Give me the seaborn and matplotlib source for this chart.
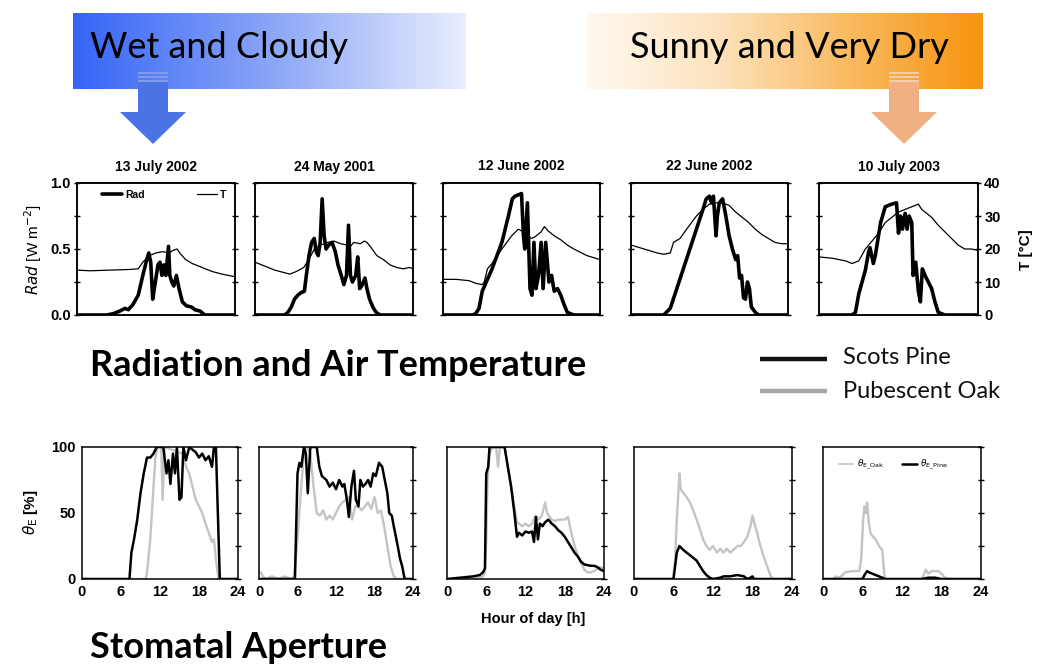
import numpy as np
import pandas as pd
import seaborn as sns
import matplotlib
matplotlib.use("Agg")
import matplotlib.pyplot as plt
from matplotlib.colors import LinearSegmentedColormap
from matplotlib.patches import Polygon, Rectangle
from matplotlib.lines import Line2D

# ---------------- data ----------------
DAYS = ["13 July 2002", "24 May 2001", "12 June 2002", "22 June 2002", "10 July 2003"]
HOUR_TICKS = [0, 6, 12, 18, 24]

# Radiation [W m-2 scaled 0..1] as (hour, value)
RAD_1 = [(0,0),(4.5,0),(5.5,0.01),(6.5,0.03),(7.3,0.05),(7.8,0.04),(8.5,0.08),(9.3,0.15),(10,0.3),(10.6,0.42),
         (10.9,0.47),(11.2,0.4),(11.5,0.12),(11.9,0.25),(12.3,0.38),(12.6,0.4),(12.9,0.3),(13.2,0.38),(13.5,0.3),
         (13.9,0.52),(14.1,0.3),(14.4,0.25),(14.7,0.22),(15.1,0.3),(15.5,0.2),(16,0.1),(16.6,0.07),(17.4,0.06),
         (17.9,0.04),(18.7,0.03),(19.4,0),(24,0)]
RAD_2 = [(0,0),(4.5,0),(5,0.02),(5.5,0.06),(6,0.12),(6.5,0.15),(7,0.17),(7.5,0.18),(7.8,0.3),(8.2,0.45),(8.6,0.55),
         (9,0.58),(9.3,0.48),(9.6,0.45),(9.9,0.55),(10.2,0.88),(10.5,0.6),(10.8,0.5),(11.2,0.53),(11.7,0.55),
         (12.2,0.48),(12.6,0.38),(13.1,0.3),(13.5,0.23),(13.9,0.3),(14.2,0.68),(14.5,0.3),(14.8,0.25),(15.3,0.3),
         (15.6,0.44),(15.9,0.2),(16.2,0.22),(16.7,0.28),(17,0.2),(17.4,0.12),(17.9,0.06),(18.4,0.02),(19,0),(24,0)]
RAD_3 = [(0,0),(4.5,0),(5,0.01),(5.5,0.05),(6,0.18),(7.5,0.35),(9,0.55),(10,0.75),(10.6,0.88),(11,0.9),(11.5,0.91),
         (12,0.92),(12.3,0.6),(12.5,0.5),(12.9,0.85),(13.3,0.2),(13.6,0.15),(13.9,0.55),(14.2,0.2),(14.6,0.3),
         (15,0.55),(15.3,0.2),(15.7,0.55),(16.2,0.25),(16.6,0.3),(17,0.18),(17.5,0.2),(18,0.15),(18.5,0.08),
         (19,0.02),(20,0),(24,0)]
RAD_4 = [(0,0),(5,0),(6,0.05),(7,0.2),(8,0.35),(9,0.5),(10,0.65),(11,0.8),(11.5,0.88),(12,0.9),(12.3,0.85),
         (12.6,0.9),(13,0.6),(13.2,0.75),(13.5,0.85),(14,0.88),(14.5,0.75),(15,0.6),(15.5,0.5),(16,0.42),
         (16.3,0.45),(16.6,0.28),(16.9,0.3),(17.2,0.13),(17.5,0.12),(17.8,0.25),(18.1,0.2),(18.4,0.06),(19,0.02),
         (19.5,0),(24,0)]
RAD_5 = [(0,0),(5,0),(5.5,0.02),(6,0.16),(7,0.34),(7.5,0.48),(7.7,0.51),(8.2,0.39),(8.5,0.45),(9.3,0.7),(10,0.82),
         (11,0.84),(11.7,0.85),(12,0.62),(12.3,0.75),(12.6,0.65),(13,0.77),(13.3,0.65),(13.6,0.75),(14,0.7),
         (14.2,0.3),(14.6,0.4),(15,0.18),(15.3,0.1),(15.6,0.35),(16,0.3),(16.5,0.25),(17,0.2),(17.5,0.1),
         (18,0.02),(19,0),(24,0)]

# Air temperature [°C] as (hour, value)
T_1 = [(0,13.6),(2,13.4),(5,13.6),(8,13.8),(9.3,14),(10,16),(11,18),(12,18.8),(13,19.2),(14,18.8),(14.6,19.6),
       (15.2,20),(15.6,18.8),(16.5,16.8),(17.5,15.6),(19,14.4),(20.5,13.2),(22,12.4),(24,11.6)]
T_2 = [(0,16),(1,15.2),(2,14.4),(3,13.6),(4.5,12.8),(5.3,12.4),(6.3,13.2),(7.4,14.4),(8.3,17.2),(9,20),(10,21.2),
       (11,22),(12,22.4),(13,21.6),(14,21.2),(14.5,20.8),(15,22),(16,21.6),(16.6,22.4),(17,22),(17.5,20.8),
       (18.5,18),(19.5,16.8),(20.5,15.2),(21.5,14.4),(22.5,14),(23.5,14.4),(24,14)]
T_3 = [(0,10.8),(2,10.8),(4,10.4),(5,9.6),(6,9.2),(6.3,10),(6.8,14),(7.5,15.6),(9,20),(10.5,24),(11.5,26),
       (12.3,25.2),(13.5,23.2),(14,23.6),(15,25.2),(15.5,26.8),(16,25.6),(17,24),(18,22.8),(19,21.2),(20,20),
       (22,18),(24,16.8)]
T_4 = [(0,21.2),(2,20),(4,18.8),(5,18.4),(6,18.8),(6.5,22),(7.5,23.2),(8.5,26),(10,30),(11,32),(12,33.6),
       (13,34),(14,34),(15,33.2),(16,31.2),(17,29.6),(18,28),(19,26),(20,24.4),(21,23.2),(22,22),(23,21.6),(24,21.6)]
T_5 = [(0,17.6),(2,17.2),(4,16.4),(5,15.6),(6,16.4),(7,20),(8,22.4),(9,24.8),(10,28),(11,29.6),(12,31.2),(13,32),
       (14,32.8),(15,33.6),(15.5,32),(16,31.2),(17,29.6),(18,27.2),(19,25.2),(20,23.2),(21,21.2),(22,20),(23,20),(24,19.6)]

# Stomatal aperture theta_E [%] as (hour, value)
OAK_1 = [(0,0),(9.8,0),(10,5),(10.5,30),(11,70),(11.3,92),(11.6,100),(12.2,100),(12.4,60),(12.7,100),(15.5,95),
         (16,85),(16.5,80),(17,70),(17.5,60),(18,55),(18.5,50),(19,42),(19.5,35),(20,28),(20.3,30),(20.6,15),(21,0),(24,0)]
PINE_1 = [(0,0),(7.3,0),(7.6,20),(8,30),(8.5,45),(9,65),(9.5,80),(10,92),(10.5,92),(11,95),(11.5,100),(12.5,100),
          (13,80),(13.3,90),(13.6,72),(14,95),(14.3,80),(14.6,100),(15,60),(15.3,62),(15.6,100),(16,90),(16.5,100),
          (17,98),(17.5,96),(18,92),(18.5,95),(19,90),(19.5,93),(20,85),(20.3,100),(20.6,100),(21.2,0),(24,0)]
OAK_2 = [(0,5),(0.3,5),(0.6,2),(1,0),(2,2),(3,0),(4,2),(5,0),(5.5,2),(6,30),(6.5,65),(7,95),(7.5,100),(8,95),
         (8.5,70),(9,50),(9.5,48),(10,52),(10.5,45),(11,48),(11.5,45),(12,50),(12.5,55),(13,58),(13.5,60),(14,62),
         (14.5,45),(15,55),(15.5,55),(16,52),(16.5,55),(17,58),(17.5,53),(18,62),(18.5,50),(19,52),(19.5,40),
         (20,25),(20.5,10),(21,2),(21.5,0),(24,0)]
PINE_2 = [(0,0),(5.6,0),(6,80),(6.3,88),(6.6,85),(7,100),(7.3,95),(7.6,65),(8,100),(9,100),(9.4,85),(9.8,78),
          (10.5,75),(11,70),(11.5,73),(12,68),(12.5,75),(13,70),(13.3,72),(13.7,60),(14,47),(14.4,70),(14.8,82),
          (15.1,60),(15.5,55),(15.8,75),(16.2,70),(16.6,72),(17,75),(17.4,70),(17.8,80),(18.2,78),(18.7,88),
          (19.2,85),(19.6,75),(20,65),(20.3,50),(20.7,48),(21,40),(21.5,28),(22,15),(22.3,10),(22.7,0),(24,0)]
OAK_3 = [(0,0),(4,0),(5.5,2),(5.8,5),(6,30),(6.2,75),(6.5,95),(7,100),(7.5,100),(7.8,85),(8.1,100),(8.8,100),
         (9.3,85),(9.8,70),(10.3,55),(10.7,43),(11,42),(11.5,40),(12,42),(12.5,40),(13,42),(13.5,48),(14,45),
         (14.5,48),(15,58),(15.3,50),(15.7,47),(16,45),(16.5,44),(17,45),(17.5,45),(18,45),(18.5,47),(19,35),
         (19.5,25),(20,18),(20.5,12),(21,7),(21.5,5),(22,5),(22.5,6),(23,8),(23.5,9),(24,8)]
PINE_3 = [(0,0),(2,1),(4,2),(5,3),(5.5,5),(5.8,8),(6,80),(6.3,85),(6.5,100),(8.8,100),(9.3,85),(9.8,70),(10.3,50),
          (10.7,32),(11,35),(11.5,33),(12,36),(12.5,35),(13,36),(13.3,28),(13.6,47),(13.9,30),(14.2,42),(14.6,40),
          (15,43),(15.5,45),(16,42),(16.5,40),(17,37),(17.5,35),(18,32),(18.5,28),(19,24),(19.5,20),(20,17),
          (20.5,13),(21,11),(22,10),(22.5,10),(23,9),(23.5,7),(24,6)]
OAK_4 = [(0,0),(5.9,0),(6.2,10),(6.5,45),(6.9,80),(7.1,68),(7.5,65),(8,62),(8.5,58),(9,52),(9.5,45),(10,38),
         (10.5,30),(11,25),(11.5,22),(12,25),(12.6,20),(13.1,23),(13.6,20),(14.1,23),(14.6,20),(15.1,22),(15.7,25),
         (16.2,25),(16.7,28),(17.2,32),(17.7,40),(18,48),(18.3,42),(18.7,35),(19.2,25),(19.7,17),(20.2,10),
         (20.7,3),(21.1,0),(24,0)]
PINE_4 = [(0,0),(6,0),(6.5,20),(6.9,25),(7.5,22),(8,20),(8.5,18),(9,16),(9.5,14),(10,10),(10.5,6),(11,3),(11.5,1),
          (12,0),(13.1,1),(13.6,2),(14.6,2),(15.7,3),(16.7,2),(17.2,0),(17.7,1),(18,2),(18.2,0),(24,0)]
OAK_5 = [(0,0),(1.5,0),(2,2),(2.5,1),(3,3),(3.3,5),(4.5,6),(5.5,6),(5.8,15),(6.1,45),(6.3,55),(6.5,50),(6.7,58),
         (6.9,45),(7.2,35),(7.6,32),(8,30),(8.5,25),(9,22),(9.2,10),(9.4,0),(15,0),(15.3,3),(15.6,7),(16,4),
         (16.5,6),(17.5,6),(18,4),(18.5,1),(19,0),(24,0)]
PINE_5 = [(0,0),(6,0),(6.3,3),(6.7,6),(7,5),(7.5,4),(8,3),(8.5,2),(9,1),(9.5,0),(15,0),(16,1),(17,1),(18,0),(24,0)]

RAD = [RAD_1, RAD_2, RAD_3, RAD_4, RAD_5]
TEMP = [T_1, T_2, T_3, T_4, T_5]
OAK = [OAK_1, OAK_2, OAK_3, OAK_4, OAK_5]
PINE = [PINE_1, PINE_2, PINE_3, PINE_4, PINE_5]

# ---------------- style ----------------
sns.set_theme(style="white")
plt.rcParams["font.family"] = ["Liberation Sans", "DejaVu Sans"]
plt.rcParams["mathtext.fontset"] = "dejavusans"
plt.rcParams["text.color"] = "black"

W, H = 1039, 664
fig = plt.figure(figsize=(W / 100, H / 100), dpi=100)
fig.patch.set_facecolor("white")


def box(x0, x1, y0, y1):
    return [x0 / W, 1 - y1 / H, (x1 - x0) / W, (y1 - y0) / H]


def frame(pairs):
    return pd.DataFrame(pairs, columns=["hour", "value"])


# background overlay in pixel coordinates
bg = fig.add_axes([0, 0, 1, 1], zorder=0)
bg.axis("off")
grad = np.linspace(0, 1, 256).reshape(1, -1)
blue = LinearSegmentedColormap.from_list("b", ["#3565f6", "#8aa5f6", "#e9eefd"])
orange = LinearSegmentedColormap.from_list("o", ["#fff8ef", "#fde3bd", "#f9b95e", "#f7940f"])
bg.imshow(grad, extent=[73, 466, 89, 13], cmap=blue, aspect="auto", interpolation="bicubic")
bg.imshow(grad, extent=[587, 983, 89, 13], cmap=orange, aspect="auto", interpolation="bicubic")


def arrow(cx, col, light):
    bg.add_patch(Rectangle((cx - 15, 82), 30, 31, color=col, lw=0))
    for y in (72, 76, 80):
        bg.add_patch(Rectangle((cx - 15, y), 30, 2.4, color=light, lw=0))
    bg.add_patch(Polygon([(cx - 33, 112), (cx + 33, 112), (cx, 144)], closed=True, color=col, lw=0))


arrow(153, "#4a73e3", "#7f9bec")
arrow(904, "#f1b083", "#f6cba8")
bg.set_xlim(0, W)
bg.set_ylim(H, 0)

bg.text(90, 47, "Wet and Cloudy", fontsize=26, family="Lato", va="center", ha="left", color="black")
bg.text(630, 47, "Sunny and Very Dry", fontsize=26, family="Lato", va="center", ha="left", color="black")
bg.text(90, 366, "Radiation and Air Temperature", fontsize=26, family="Lato", weight="bold", va="center",
        color="black")
bg.text(90, 648, "Stomatal Aperture", fontsize=26, family="Lato", weight="bold", va="center", color="black")

# species legend
bg.plot([760, 827], [359, 359], color="#111111", lw=3.2, solid_capstyle="butt")
bg.plot([760, 827], [391, 391], color="#a6a6a6", lw=3.2, solid_capstyle="butt")
bg.text(843, 358, "Scots Pine", fontsize=17, family="Lato", va="center", color="#111111")
bg.text(843, 391, "Pubescent Oak", fontsize=17, family="Lato", va="center", color="#111111")

# axis-wide labels
bg.text(33, 250, r"$\it{Rad}$ [W m$^{-2}$]", fontsize=11, rotation=90, va="center", ha="center", color="black")
bg.text(1026, 250, "T [°C]", fontsize=11, weight="bold", rotation=90, va="center", ha="center", color="black")
bg.text(31, 512, r"$\theta_{\mathrm{E}}$ [%]", fontsize=11, weight="bold", rotation=90, va="center", ha="center",
        color="black")
bg.text(533, 619, "Hour of day [h]", fontsize=10.5, weight="bold", va="center", ha="center", color="black")

TOP_X = [(77, 235), (255, 413), (443, 600), (631, 788), (819, 978)]
BOT_X = [(82, 238), (259, 413), (447, 604), (634, 792), (823, 981)]


def style_spines(ax):
    for s in ax.spines.values():
        s.set_color("black")
        s.set_linewidth(1.1)
        s.set_visible(True)


tick_kw = dict(direction="inout", length=5, width=1.0, colors="black", labelsize=10.5, pad=2)

for i in range(5):
    x0, x1 = TOP_X[i]
    ax = fig.add_axes(box(x0, x1, 183, 315), zorder=2)
    ax.set_facecolor("white")
    r = frame(RAD[i])
    sns.lineplot(data=r, x="hour", y="value", ax=ax, color="black", lw=2.6, errorbar=None, sort=False)
    ax2 = ax.twinx()
    t = frame(TEMP[i])
    sns.lineplot(data=t, x="hour", y="value", ax=ax2, color="black", lw=0.9, errorbar=None, sort=False)
    ax.set_xlim(0, 24)
    ax.set_ylim(0, 1)
    ax2.set_ylim(0, 40)
    ax.set_xticks(HOUR_TICKS)
    ax.set_xticklabels([])
    ax.set_yticks([0, 0.25, 0.5, 0.75, 1.0])
    ax2.set_yticks([0, 10, 20, 30, 40])
    ax.tick_params(axis="both", **tick_kw)
    ax2.tick_params(axis="y", **tick_kw)
    if i == 0:
        ax.set_yticklabels(["0.0", "", "0.5", "", "1.0"], weight="bold")
    else:
        ax.set_yticklabels([])
    if i == 4:
        ax2.set_yticklabels(["0", "10", "20", "30", "40"], weight="bold")
    else:
        ax2.set_yticklabels([])
    for a in (ax, ax2):
        a.set_xlabel("")
        a.set_ylabel("")
    style_spines(ax)
    style_spines(ax2)
    ax.set_title(DAYS[i], fontsize=10, weight="bold", pad=9, color="black")
    if i == 0:
        h = [Line2D([], [], color="black", lw=2.6), Line2D([], [], color="black", lw=0.9)]
        ax.legend(h, ["Rad", "T"], ncol=2, loc="upper left", bbox_to_anchor=(0.1, 1.02), frameon=False,
                  prop={"weight": "bold", "size": 7.5}, handlelength=1.9, handletextpad=0.3, columnspacing=5.0)

for i in range(5):
    x0, x1 = BOT_X[i]
    ax = fig.add_axes(box(x0, x1, 447, 579), zorder=2)
    ax.set_facecolor("white")
    o = frame(OAK[i])
    p = frame(PINE[i])
    sns.lineplot(data=o, x="hour", y="value", ax=ax, color="#c4c4c4", lw=1.7, errorbar=None, sort=False)
    sns.lineplot(data=p, x="hour", y="value", ax=ax, color="black", lw=1.8, errorbar=None, sort=False)
    ax.set_xlim(0, 24)
    ax.set_ylim(0, 100)
    ax.set_xticks(HOUR_TICKS)
    ax.set_xticklabels([str(v) for v in HOUR_TICKS], weight="bold")
    ax.set_yticks([0, 25, 50, 75, 100])
    ax.tick_params(axis="both", right=True, **tick_kw)
    if i == 0:
        ax.set_yticklabels(["0", "", "50", "", "100"], weight="bold")
    else:
        ax.set_yticklabels([])
    ax.set_xlabel("")
    ax.set_ylabel("")
    style_spines(ax)
    if i == 4:
        h = [Line2D([], [], color="#c4c4c4", lw=1.2), Line2D([], [], color="black", lw=1.8)]
        ax.legend(h, [r"$\theta_{\mathrm{E\_Oak}}$", r"$\theta_{\mathrm{E\_Pine}}$"], ncol=2, loc="upper left",
                  bbox_to_anchor=(0.05, 0.98), frameon=False, prop={"size": 6.5}, handlelength=1.6,
                  handletextpad=0.4, columnspacing=2.0)

fig.savefig("out.png", dpi=100, facecolor="white")
